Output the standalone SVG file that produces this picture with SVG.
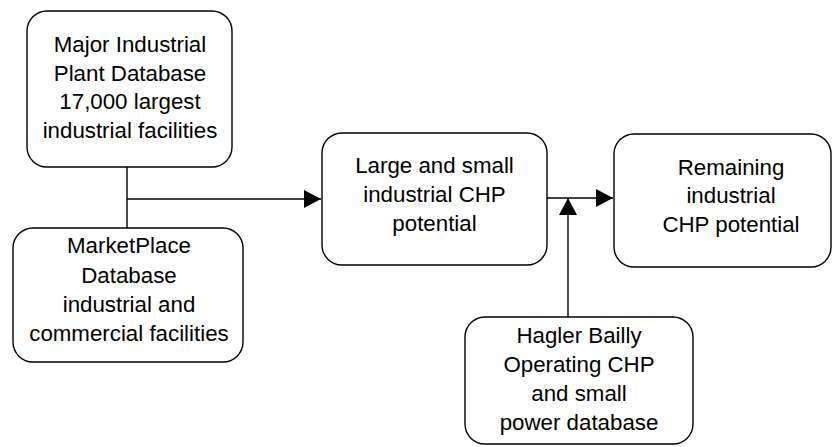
<svg xmlns="http://www.w3.org/2000/svg" width="833" height="447" viewBox="0 0 833 447">
<style>
.box{fill:#fff;stroke:#000;stroke-width:1.4}
.t{font-family:"Liberation Sans",Arial,sans-serif;font-size:22.3px;fill:#000;text-anchor:middle}
.ln{fill:none;stroke:#000;stroke-width:1.4}
</style>
<defs>
<marker id="ah" markerWidth="17" markerHeight="18" refX="17" refY="9" orient="auto" markerUnits="userSpaceOnUse">
<path d="M0,0 L17,9 L0,18 Z" fill="#000"/>
</marker>
</defs>
<rect width="833" height="447" fill="#fff"/>
<g id="connectors">
<path class="ln" d="M127,167 V228"/>
<path class="ln" d="M127,199 H321" marker-end="url(#ah)"/>
<path class="ln" d="M547,198 H613" marker-end="url(#ah)"/>
<path class="ln" d="M568,317 V198" marker-end="url(#ah)"/>
</g>
<g id="n1">
<rect class="box" x="27" y="11" width="205" height="156" rx="20"/>
<text class="t" x="130" y="52">Major Industrial</text>
<text class="t" x="130" y="81">Plant Database</text>
<text class="t" x="130" y="109">17,000 largest</text>
<text class="t" x="130" y="138">industrial facilities</text>
</g>
<g id="n2">
<rect class="box" x="13" y="228" width="230" height="134" rx="20"/>
<text class="t" x="129" y="253">MarketPlace</text>
<text class="t" x="129" y="283">Database</text>
<text class="t" x="129" y="312">industrial and</text>
<text class="t" x="129" y="341">commercial facilities</text>
</g>
<g id="n3">
<rect class="box" x="322" y="133" width="225" height="132" rx="20"/>
<text class="t" x="434.5" y="173">Large and small</text>
<text class="t" x="434.5" y="202">industrial CHP</text>
<text class="t" x="434.5" y="231">potential</text>
</g>
<g id="n4">
<rect class="box" x="614" y="134" width="217" height="133" rx="20"/>
<text class="t" x="731" y="175">Remaining</text>
<text class="t" x="731" y="203">industrial</text>
<text class="t" x="731" y="232">CHP potential</text>
</g>
<g id="n5">
<rect class="box" x="465" y="317" width="228" height="127" rx="20"/>
<text class="t" x="579" y="343">Hagler Bailly</text>
<text class="t" x="579" y="372">Operating CHP</text>
<text class="t" x="579" y="401">and small</text>
<text class="t" x="579" y="430">power database</text>
</g>
</svg>
